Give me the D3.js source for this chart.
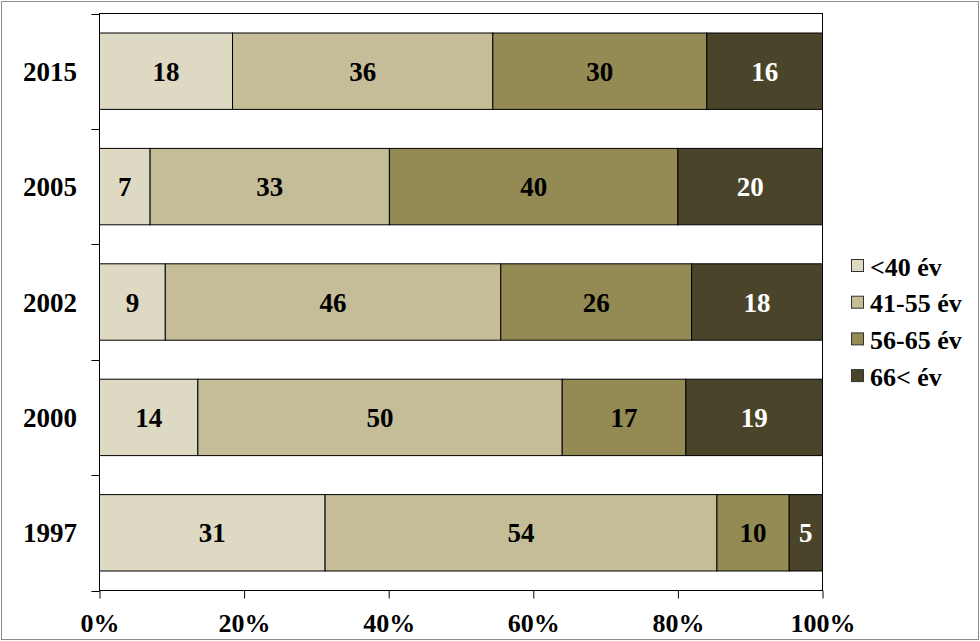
<!DOCTYPE html>
<html><head><meta charset="utf-8">
<script src="https://cdn.jsdelivr.net/npm/d3@7"></script>
<style>html,body{margin:0;padding:0;background:#fff;}svg{display:block;}
svg text{font-family:'Liberation Serif','Times New Roman',serif;font-weight:bold;}</style>
</head><body>
<script>
const years = ["2015", "2005", "2002", "2000", "1997"];
const seriesNames = ["<40 \u00e9v", "41-55 \u00e9v", "56-65 \u00e9v", "66< \u00e9v"];
const under40 = [18.4, 7.0, 9.1, 13.6, 31.2];
const age41_55 = [36.0, 33.1, 46.4, 50.4, 54.2];
const age56_65 = [29.6, 39.9, 26.4, 17.1, 10.0];
const over66 = [16.0, 20.0, 18.1, 18.9, 4.6];
const xTicks = [0, 0.2, 0.4, 0.6, 0.8, 1.0];
const colors = ["#DDD9C3", "#C4BD97", "#948A54", "#4A452A"];
const labelColors = ["#000", "#000", "#000", "#fff"];

(function () {
const W = 980, H = 641;
const svg = d3.select("body").append("svg").attr("width", W).attr("height", H);

svg.append("rect").attr("x", 1.5).attr("y", 1.5).attr("width", 977).attr("height", 638)
  .attr("fill", "#fff").attr("stroke", "#8c8c8c").attr("stroke-width", 1);

const pL = 99.5, pR = 822.5, pT = 13.5, pB = 590.5;
const x = d3.scaleLinear().domain([0, 1]).range([pL, pR]);
const y = d3.scaleBand().domain(years).range([pT, pB]).paddingInner(0.338).paddingOuter(0.169);

const rows = years.map((yr, i) => ({year: yr, s0: under40[i], s1: age41_55[i], s2: age56_65[i], s3: over66[i]}));
const keys = ["s0", "s1", "s2", "s3"];
const stacked = d3.stack().keys(keys).offset(d3.stackOffsetExpand)(rows);

// plot area border
svg.append("rect").attr("x", pL).attr("y", pT).attr("width", pR - pL).attr("height", pB - pT)
  .attr("fill", "none").attr("stroke", "#000").attr("stroke-width", 1);

// bars
stacked.forEach((layer, k) => {
  const g = svg.append("g");
  g.selectAll("rect").data(layer).enter().append("rect")
    .attr("x", d => x(d[0]))
    .attr("y", d => y(d.data.year))
    .attr("width", d => x(d[1]) - x(d[0]))
    .attr("height", y.bandwidth())
    .attr("fill", colors[k]).attr("stroke", "#000").attr("stroke-width", 1);
  g.selectAll("text").data(layer).enter().append("text")
    .attr("x", d => (x(d[0]) + x(d[1])) / 2)
    .attr("y", d => y(d.data.year) + y.bandwidth() / 2 + 9.5)
    .attr("text-anchor", "middle")
    .attr("font-size", 27)
    .attr("fill", labelColors[k])
    .text(d => Math.round(d.data[keys[k]]));
});

// y axis ticks (category boundaries)
const step = y.step();
const bounds = d3.range(years.length + 1).map(i => pT + i * step);
svg.append("g").selectAll("line").data(bounds).enter().append("line")
  .attr("x1", pL - 8).attr("x2", pL).attr("y1", d => Math.round(d) + 0.5).attr("y2", d => Math.round(d) + 0.5)
  .attr("stroke", "#000");
svg.append("g").selectAll("text").data(years).enter().append("text")
  .attr("x", 77).attr("y", d => y(d) + y.bandwidth() / 2 + 9.5)
  .attr("text-anchor", "end")
  .attr("font-size", 27)
  .text(d => d);

// x axis
const xAxis = d3.axisBottom(x).tickValues(xTicks).tickFormat(d3.format(".0%")).tickSize(8).tickSizeOuter(0);
const gx = svg.append("g").attr("transform", `translate(0,${pB})`).call(xAxis);
gx.attr("font-family", null).attr("font-size", null);
gx.select(".domain").remove();
gx.selectAll(".tick line").attr("stroke", "#000");
gx.selectAll(".tick text").attr("dy", null).attr("y", 41)
  .attr("font-size", 26).attr("fill", "#000");

// legend
const lg = svg.append("g");
seriesNames.forEach((name, i) => {
  const cy = 266.5 + i * 36.7;
  lg.append("rect").attr("x", 851.5).attr("y", cy - 7).attr("width", 12).attr("height", 12)
    .attr("fill", colors[i]).attr("stroke", "#333").attr("stroke-width", 1);
  lg.append("text").attr("x", 870).attr("y", cy + 9)
    .attr("font-size", 26)
    .text(name);
});
})();
</script>
</body></html>
